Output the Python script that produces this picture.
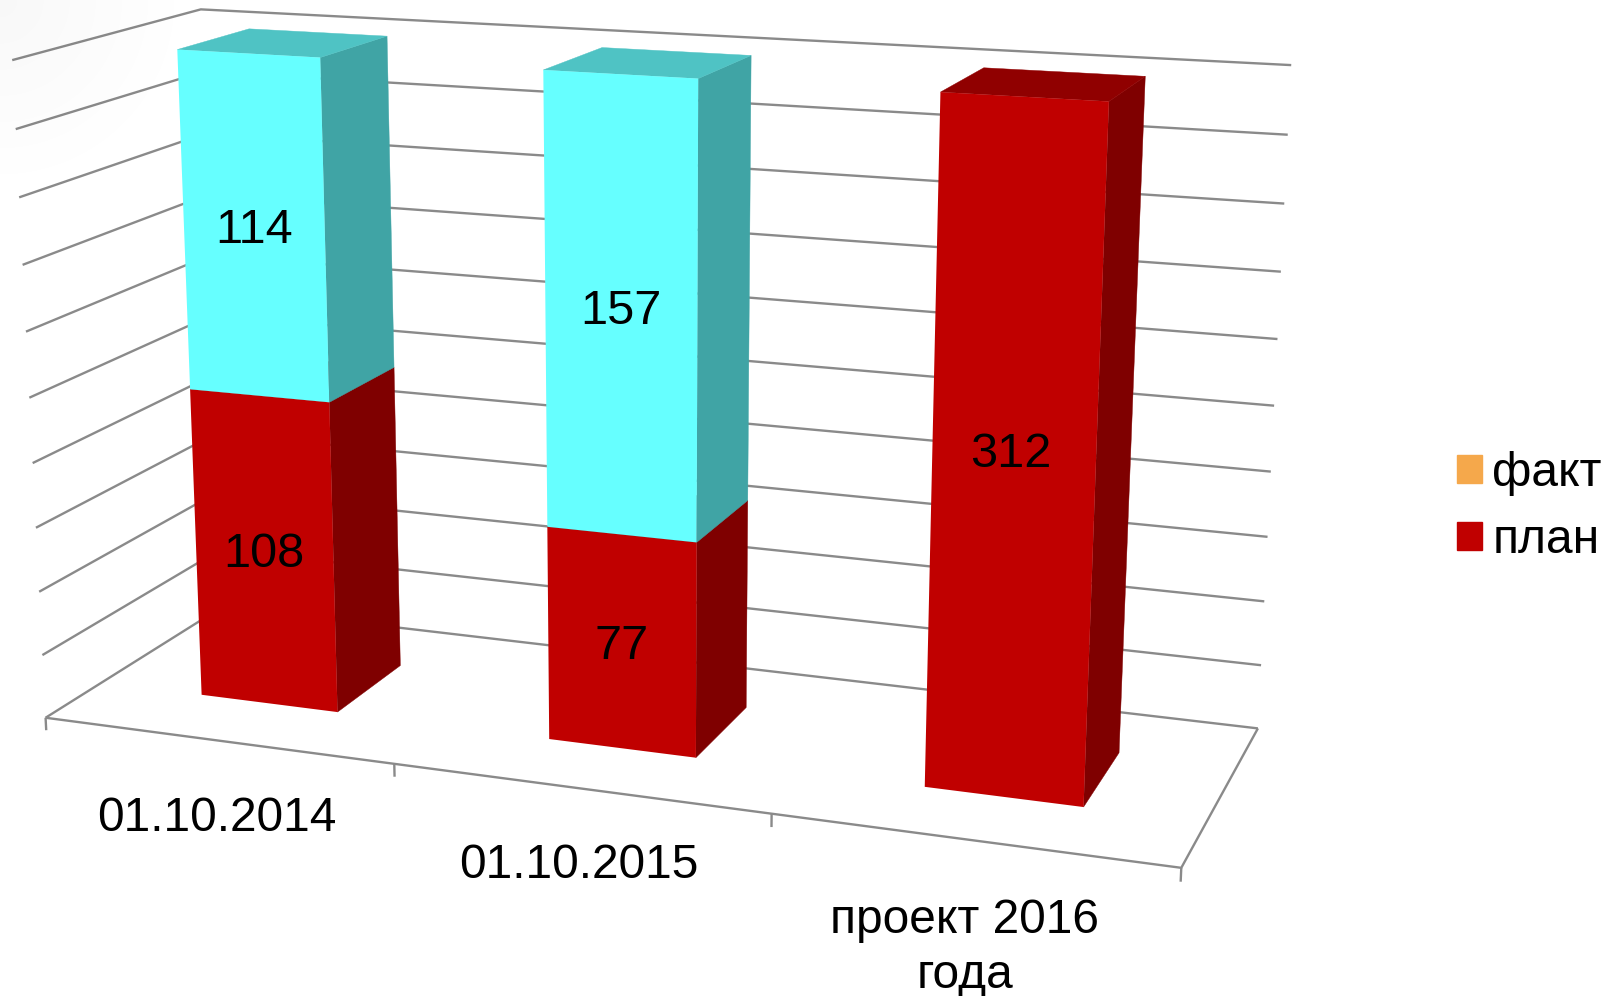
import numpy as np, pandas as pd, matplotlib
matplotlib.use("Agg")
import matplotlib.pyplot as plt, seaborn as sns
from matplotlib.transforms import Transform, Affine2D
from matplotlib.patches import Polygon, Patch

periods = ["01.10.2014", "01.10.2015", "проект 2016\nгода"]
plan = [108, 77, 312]
fact = [114, 157, np.nan]
y_max = 100
y_step = 10

sns.set_theme(style="white")
plt.rcParams["font.family"] = ["Liberation Sans", "DejaVu Sans"]
W, H = 1608, 996
fig = plt.figure(figsize=(W/100, H/100), dpi=100, facecolor="white")
ax = fig.add_axes([0, 0, 1, 1])

# faint slide shading in the top-left corner
yy, xx = np.mgrid[0:220, 0:220]
shade = np.zeros((220, 220, 4))
shade[..., 3] = 0.03*np.clip(1-np.hypot(xx, yy)/200, 0, 1)
fig.figimage(shade, xo=0, yo=H-220, origin="upper", zorder=0)

# camera fitted to the frame of the chart
left_x = [12.5,16,19,22.5,25.5,29,32.5,36,39,42,46]
left_y = [61,129,197,265,331,398,463,528,591.5,655,717]
right_x = [1291,1288,1284,1281,1278,1274,1271,1267,1264,1261,1258]
right_y = [65,134,204,272,338,406,472,536,602,666,728]
levels = np.arange(0, y_max+1, y_step)
W3, S2 = [], []
for i, lv in enumerate(levels[::-1]):
    W3.append((-.5, lv, 0)); S2.append((left_x[i], left_y[i]))
    W3.append((2.5, lv, 1)); S2.append((right_x[i], right_y[i]))
W3 += [(-.5, y_max, 1), (2.5, 0, 0), (.5, 0, 0), (1.5, 0, 0)]
S2 += [(201, 9.5), (1181, 867), (395, 764), (772, 815)]
A, b = [], []
for (X, Y, Z), (u, v) in zip(W3, S2):
    A.append([X, Y, Z, 1, 0, 0, 0, 0, -u*X, -u*Y, -u*Z]); b.append(u)
    A.append([0, 0, 0, 0, X, Y, Z, 1, -v*X, -v*Y, -v*Z]); b.append(v)
sol = np.linalg.lstsq(np.array(A, float), np.array(b, float), rcond=None)[0]
P = np.append(sol, 1).reshape(3, 4)

def project(x, y, z):
    x = np.asarray(x, float)
    q = P @ np.vstack([x, np.asarray(y, float)*np.ones_like(x), np.asarray(z, float)*np.ones_like(x), np.ones_like(x)])
    return q[0]/q[2], q[1]/q[2]

class Proj(Transform):
    input_dims = output_dims = 2
    is_separable = False
    def __init__(self, z):
        super().__init__(); self.z = z
    def transform_non_affine(self, v):
        v = np.asarray(v, float)
        u, w = project(v[:, 0], v[:, 1], np.full(len(v), self.z))
        return np.column_stack([u, w])

screen = Affine2D().scale(1, -1).translate(0, H)

bar_width = 0.4
z0, z1 = 0.3, 0.7
df = pd.DataFrame({"period": periods, "plan": plan, "fact": fact})
total = df["plan"] + df["fact"].fillna(0)
df["plan_pct"] = 100*df["plan"]/total
df["fact_pct"] = 100*df["fact"]/total
stack_base = df["plan_pct"][df["fact"].notna()].tolist()
sns.barplot(data=df, x="period", y="plan_pct", color="#C00000", width=bar_width, saturation=1, ax=ax)
sns.barplot(data=df, x="period", y="fact_pct", color="#66FFFF", width=bar_width, saturation=1, bottom=stack_base, ax=ax)
ax.axis("off")
bar_labels = plan + [f for f in fact if np.isfinite(f)]
label_nudge = [(0, 3), (0, 4), (-3, -2), (0, 4), (0, 3)]

GRID = "#8A8A8A"
def ln(xs, ys, zs):
    u, v = project(xs, ys, zs)
    ax.plot(u, v, color=GRID, lw=1.7, transform=screen, zorder=1, clip_on=False, solid_capstyle="butt")
for lv in levels:
    ln([-.5, -.5, 2.5], [lv]*3, [0, 1, 1])
ln([-.5, 2.5, 2.5], [0, 0, 0], [0, 0, 1])
for t in [-.5, .5, 1.5, 2.5]:
    ln([t, t], [0, -2], [0, 0])

front = Proj(z0) + screen
drawn = [p for p in ax.patches if np.isfinite(p.get_height())]
for patch in ax.patches:
    if not np.isfinite(patch.get_height()):
        patch.set_visible(False)
for patch, val, (dx, dy) in zip(drawn, bar_labels, label_nudge):
    x0, x1 = patch.get_x(), patch.get_x()+patch.get_width()
    y0, y1 = patch.get_y(), patch.get_y()+patch.get_height()
    red = patch.get_facecolor()[0] > .5
    side, top = ("#7F0000", "#900000") if red else ("#40A4A5", "#4FC3C4")
    for pts, c in [([(x1,y0,z0),(x1,y0,z1),(x1,y1,z1),(x1,y1,z0)], side),
                   ([(x0,y1,z0),(x1,y1,z0),(x1,y1,z1),(x0,y1,z1)], top)]:
        a = np.array(pts)
        u, v = project(a[:,0], a[:,1], a[:,2])
        ax.add_patch(Polygon(np.column_stack([u, v]), closed=True, fc=c, ec=c, lw=.3, transform=screen, zorder=2, clip_on=False))
    patch.set_transform(front)
    patch.set_zorder(3); patch.set_clip_on(False); patch.set_edgecolor("none")
    u, v = project([(x0+x1)/2], [(y0+y1)/2], [z0])
    ax.text(u[0]+dx, v[0]+dy, f"{val:.0f}", transform=screen, ha="center", va="center", fontsize=35, color="black", zorder=4)

label_pos = [(217, 818), (579, 865), (965, 948)]
for lab, (u, v) in zip(periods, label_pos):
    ax.text(u, v, lab, transform=screen, ha="center", va="center", fontsize=34.5, color="black", linespacing=1.28, zorder=4)

ax.legend(handles=[Patch(color="#F5A84B", label="факт"), Patch(color="#C00000", label="план")],
          loc="center left", bbox_to_anchor=(1457/W, 1-507/H), bbox_transform=fig.transFigure, frameon=False,
          fontsize=34.5, labelcolor="black", handlelength=.52, handleheight=.52, handletextpad=.22, labelspacing=.46, borderpad=0, borderaxespad=0)

fig.savefig("out.png", dpi=100)
